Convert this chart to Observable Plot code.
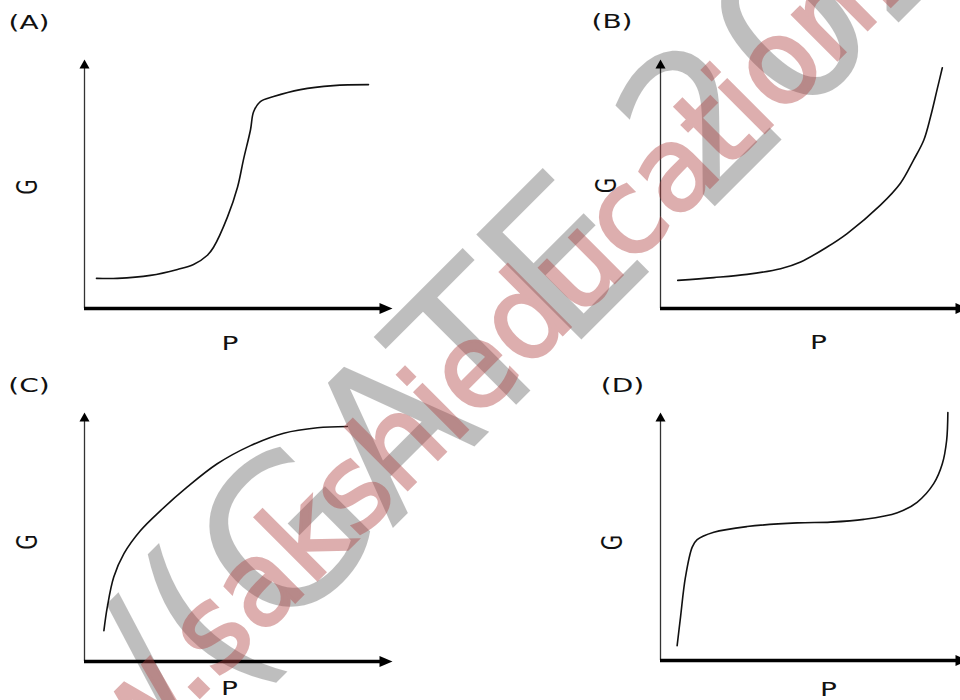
<!DOCTYPE html>
<html>
<head>
<meta charset="utf-8">
<script src="https://cdn.jsdelivr.net/npm/d3@7"></script>
<script src="https://cdn.jsdelivr.net/npm/@observablehq/plot@0.6"></script>
<style>
  html, body { margin: 0; padding: 0; background: #fff; }
  #chart { position: relative; width: 960px; height: 700px; overflow: hidden; background: #fff; }
  .panel { position: absolute; }
  .panel svg { max-width: none !important; display: block; }
</style>
</head>
<body>
<div id="chart"></div>
<script>
// ---------- data (P and G in axis units 0..10) ----------
const panelLabels = ["(A)", "(B)", "(C)", "(D)"];
const xLabel = "P";
const yLabel = "G";

const aP = [0.39, 1.07, 2.14, 3.02, 3.54, 3.99, 4.19, 4.64, 4.97, 5.16, 5.39, 5.49, 5.71, 6.14, 7.01, 8.08, 9.22];
const aG = [1.21, 1.21, 1.33, 1.57, 1.77, 2.14, 2.46, 3.67, 4.88, 5.97, 7.18, 7.90, 8.31, 8.51, 8.79, 8.95, 8.99];

const bP = [0.56, 1.73, 2.81, 3.90, 4.55, 5.41, 6.06, 7.14, 7.79, 8.22, 8.55, 8.77, 8.98, 9.15];
const bG = [1.13, 1.24, 1.37, 1.60, 1.87, 2.47, 3.01, 4.15, 5.03, 5.97, 6.77, 7.71, 8.79, 9.67];

const cP = [0.63, 0.74, 0.95, 1.28, 1.82, 2.47, 3.33, 4.31, 5.39, 6.47, 7.56, 8.53];
const cG = [1.24, 2.18, 3.39, 4.33, 5.26, 6.06, 7.00, 7.94, 8.67, 9.17, 9.39, 9.44];

const dP = [0.54, 0.65, 0.81, 1.03, 1.19, 1.73, 2.81, 4.44, 5.52, 6.60, 7.69, 8.33, 8.87, 9.15, 9.29, 9.33];
const dG = [0.60, 1.75, 3.36, 4.57, 4.87, 5.17, 5.40, 5.55, 5.58, 5.69, 5.96, 6.38, 7.13, 7.93, 8.87, 10.0];

const axisMax = 10;
const watermarkGrey = ["/(", "GATE 2020"];
const watermarkPink = ["www.", "sakshieducation.com"];

// ---------- layout (positions / styles) ----------
const layout = [
  {left: 0,   top: 0,   width: 480, ml: 84,  mt: 59, axisY: 308, lab: [-55.5, -37], g: [-54, 3],     p: [-8.5, 35]},
  {left: 480, top: 0,   width: 520, ml: 180, mt: 59, axisY: 308, lab: [-48.5, -38], g: [-50.5, 1.5], p: [4, 34]},
  {left: 0,   top: 350, width: 480, ml: 84,  mt: 62, axisY: 311, lab: [-55.5, -27], g: [-54, 5],     p: [-9, 27.5]},
  {left: 480, top: 350, width: 520, ml: 180, mt: 62, axisY: 310, lab: [-38, -27],   g: [-45, 6],     p: [14, 29]}
];
const axisLen = 308;
const textStretch = 1.4;

const arrowUp = {draw(ctx) { ctx.moveTo(0, 0); ctx.lineTo(5, 9); ctx.lineTo(-5, 9); ctx.closePath(); }};
const arrowRight = {draw(ctx) { ctx.moveTo(0, 0); ctx.lineTo(-13, 5.5); ctx.lineTo(-13, -5.5); ctx.closePath(); }};

const series = [[aP, aG], [bP, bG], [cP, cG], [dP, dG]];
const chart = document.getElementById("chart");

// stretch a text element horizontally (in screen space) about its anchor point
function stretchText(el, s) {
  const list = el.transform.baseVal;
  const m = list.numberOfItems ? list.consolidate().matrix : el.ownerSVGElement.createSVGMatrix();
  const x = el.x && el.x.baseVal.numberOfItems ? el.x.baseVal.getItem(0).value : 0;
  const y = el.y && el.y.baseVal.numberOfItems ? el.y.baseVal.getItem(0).value : 0;
  const ax = m.a * x + m.c * y + m.e;
  const ay = m.b * x + m.d * y + m.f;
  el.removeAttribute("x");
  el.removeAttribute("y");
  el.setAttribute("transform", `matrix(${s * m.a},${m.b},${s * m.c},${m.d},${ax},${ay})`);
}

series.forEach(([P, G], k) => {
  const L = layout[k];
  const data = P.map((p, i) => ({P: p, G: G[i]}));
  const font = {fontFamily: "DejaVu Sans", fontSize: 20, fill: "#111"};
  const svg = Plot.plot({
    width: L.width,
    height: 350,
    marginLeft: L.ml,
    marginRight: L.width - L.ml - axisLen,
    marginTop: L.mt,
    marginBottom: 350 - L.axisY,
    x: {domain: [0, axisMax], axis: null},
    y: {domain: [0, axisMax], axis: null},
    style: {background: "transparent", overflow: "visible", maxWidth: "none"},
    marks: [
      Plot.ruleX([0], {y1: 0, y2: axisMax * 0.97, stroke: "#333", strokeWidth: 1.3}),
      Plot.dot([{P: 0, G: axisMax}], {x: "P", y: "G", symbol: arrowUp, r: 5, fill: "#000", stroke: "none"}),
      Plot.ruleY([0], {x1: 0, x2: axisMax * 0.965, stroke: "#000", strokeWidth: 3.5}),
      Plot.dot([{P: axisMax, G: 0}], {x: "P", y: "G", symbol: arrowRight, r: 5, fill: "#000", stroke: "none"}),
      Plot.line(data, {x: "P", y: "G", curve: "catmull-rom", stroke: "#111", strokeWidth: 1.6}),
      Plot.text([panelLabels[k]], {text: d => d, frameAnchor: "top-left", dx: L.lab[0], dy: L.lab[1], textAnchor: "middle", lineAnchor: "middle", ...font}),
      Plot.text([yLabel], {text: d => d, frameAnchor: "left", dx: L.g[0], dy: L.g[1], rotate: -90, textAnchor: "middle", lineAnchor: "middle", ...font}),
      Plot.text([xLabel], {text: d => d, frameAnchor: "bottom", dx: L.p[0], dy: L.p[1], textAnchor: "middle", lineAnchor: "middle", ...font})
    ]
  });
  const div = document.createElement("div");
  div.className = "panel";
  div.style.left = L.left + "px";
  div.style.top = L.top + "px";
  div.style.width = L.width + "px";
  div.appendChild(svg);
  chart.appendChild(div);
  svg.querySelectorAll("text").forEach(el => stretchText(el, textStretch));
});

// ---------- watermark overlay ----------
const wm = d3.select("#chart").append("svg")
  .attr("width", 960).attr("height", 700)
  .style("position", "absolute").style("left", "0px").style("top", "0px")
  .style("pointer-events", "none");

function stamp(parts, at, size, color, opacity, sw) {
  const g = wm.append("g").attr("opacity", opacity)
    .attr("transform", `translate(${at[0]},${at[1]}) rotate(-45)`)
    .style("font-family", "DejaVu Sans").style("font-size", size + "px");
  g.append("text").attr("text-anchor", "end").attr("fill", color)
    .attr("stroke", color).attr("stroke-width", sw).text(parts[0]);
  g.append("text").attr("text-anchor", "start").attr("fill", color)
    .attr("stroke", color).attr("stroke-width", sw).text(parts[1]);
}
stamp(watermarkGrey, [280, 641], 204, "#000", 0.25, 0);
stamp(watermarkPink, [217, 680], 116, "#af4141", 0.42, 3);
</script>
</body>
</html>
